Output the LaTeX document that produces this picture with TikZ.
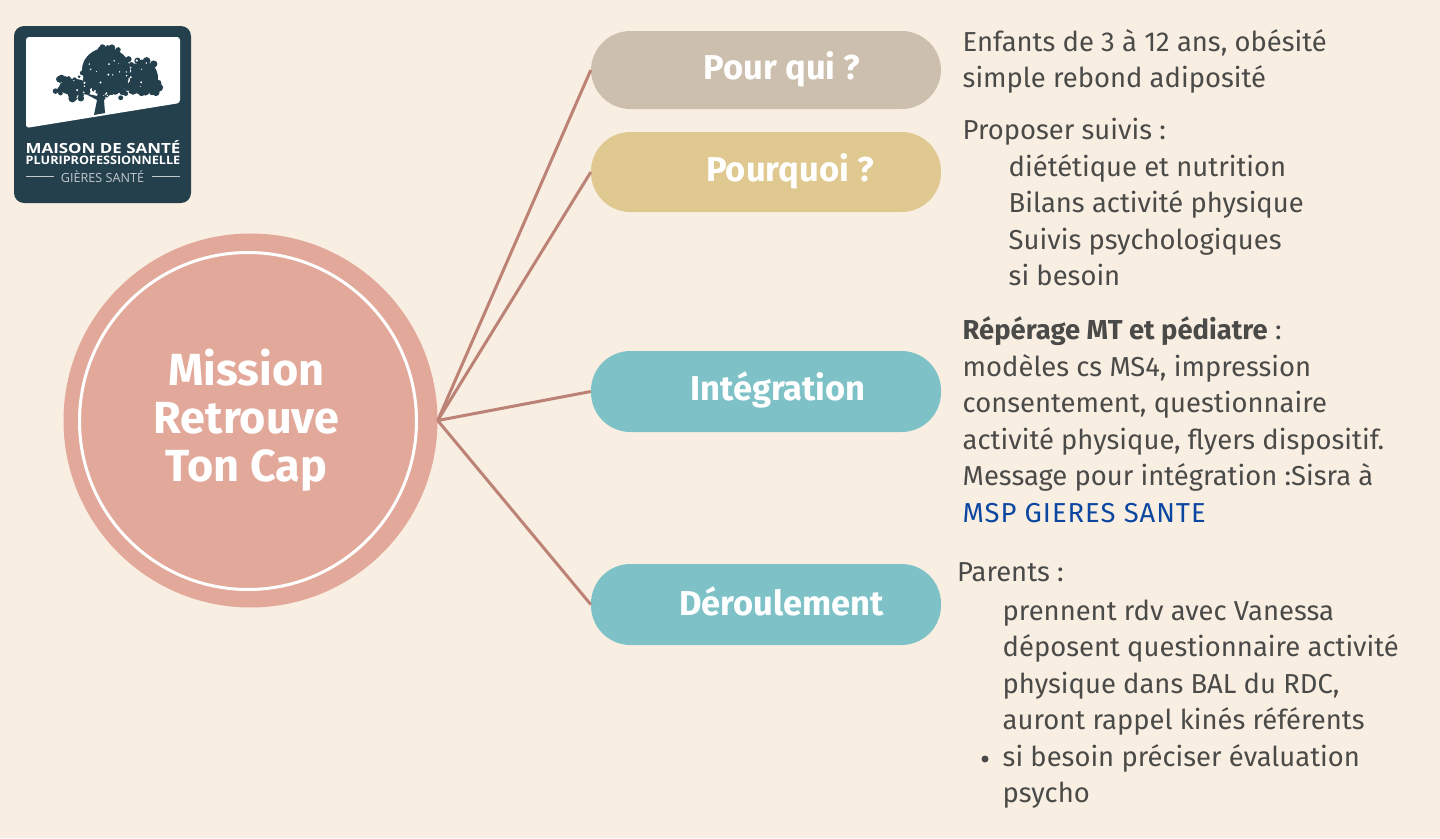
\documentclass[tikz,border=0pt]{standalone}
\usepackage{fontspec}
\setmainfont{Fira Sans}
\newfontfamily\logofont{Open Sans}
\definecolor{bgc}{HTML}{F9EEE2}
\definecolor{hubc}{HTML}{E2A99B}
\definecolor{linec}{HTML}{BD8276}
\definecolor{pillA}{HTML}{CDBFAD}
\definecolor{pillB}{HTML}{DFC990}
\definecolor{pillC}{HTML}{7EC2C8}
\definecolor{inkc}{HTML}{4A4A48}
\definecolor{linkc}{HTML}{0B46A0}
\definecolor{logoc}{HTML}{24404D}
\newcommand{\bodyblock}[1]{\begin{minipage}[t]{470pt}\raggedright #1\end{minipage}}
\newcommand{\ind}{\hspace*{46pt}}
\tikzset{
 pill/.style={rounded corners=39.5pt,minimum width=350pt,minimum height=79pt,anchor=center,inner sep=0pt},
 pilltext/.style={text=white,font=\fontsize{34.5}{36}\selectfont\bfseries,anchor=center,inner sep=0pt},
 conn/.style={draw=linec,line width=3pt},
 body/.style={text=inkc,font=\fontsize{27.4}{36.5}\selectfont,anchor=base west,inner sep=0pt},
 logotext/.style={text=white,inner sep=0pt,anchor=center},
 hubstyle/.style={text=white,font=\fontsize{45}{48}\selectfont\bfseries,align=center,inner sep=0pt},
}
\begin{document}
\begin{tikzpicture}[x=1pt,y=-1pt]
\useasboundingbox (0,0) rectangle (1440,838);
\fill[bgc] (0,0) rectangle (1440,838);
% logo
\node[fill=logoc,rounded corners=10pt,minimum width=177pt,minimum height=177pt,inner sep=0pt] (logo) at (102.5,114.5) {};
\fill[white,rounded corners=3pt] (26,128) -- (26,37) -- (180,37) -- (180,103) -- cycle;
\fill[logoc] (94,115) -- (97,100) -- (84,93) -- (97,96) -- (100,88) -- (103,96) -- (116,90) -- (104,100) -- (105,113) -- cycle;
\fill[logoc] (106,70) ellipse[x radius=24,y radius=22];
\fill[logoc] (144,78) ellipse[x radius=14,y radius=16];
\fill[logoc] (74,87) ellipse[x radius=15,y radius=8];
\pgfmathsetseed{7}
\foreach \cx/\cy/\rx/\ry/\n in {72/88/20/12/40,106/69/27/25/70,144/78/18/21/50,120/90/18/8/20}{
  \foreach \i in {1,...,\n}{
    \pgfmathsetmacro{\aa}{rnd*360}
    \pgfmathsetmacro{\dd}{sqrt(rnd)}
    \pgfmathsetmacro{\rr}{1.4+rnd*2.6}
    \fill[logoc] ({\cx+\rx*\dd*cos(\aa)},{\cy+\ry*\dd*sin(\aa)}) circle[radius=\rr];
  }
}
\foreach \i in {1,...,40}{
  \pgfmathsetmacro{\px}{62+rnd*90}
  \pgfmathsetmacro{\py}{56+rnd*42}
  \pgfmathsetmacro{\rr}{0.4+rnd*0.8}
  \fill[white] (\px,\py) circle[radius=\rr];
}
\node[logotext,xscale=1.21,font=\logofont\fontsize{14}{15}\selectfont\bfseries] (logoA) at (103,146.7) {MAISON DE SANTÉ};
\node[logotext,xscale=1.08,font=\logofont\fontsize{11.7}{12}\selectfont\bfseries] (logoB) at (103,160) {PLURIPROFESSIONNELLE};
\node[logotext,text=white!72!logoc,font=\logofont\fontsize{12.6}{13}\selectfont] (logoC) at (102.5,176.5) {GIÈRES SANTÉ};
\draw[white!72!logoc,line width=1pt] (26,176.5) -- (54,176.5) (152,176.5) -- (180,176.5);
% hub
\node[circle,fill=hubc,minimum size=374pt,inner sep=0pt] (hub) at (250.5,420.5) {};
\node[circle,draw=white,line width=3pt,minimum size=337pt,inner sep=0pt] (ring) at (248,421) {};
\node[hubstyle] (hubtext) at (246.5,420) {Mission\\Retrouve\\Ton Cap};
% pills
\node[pill,fill=pillA,minimum height=78pt] (p1) at (766,70) {};
\node[pill,fill=pillB,minimum height=80pt] (p2) at (766,172) {};
\node[pill,fill=pillC,minimum height=81pt] (p3) at (766,391.5) {};
\node[pill,fill=pillC,minimum height=81pt] (p4) at (766,604.5) {};
\node[pilltext] (t1) at (782,69) {Pour qui ?};
\node[pilltext] (t2) at (790,171) {Pourquoi ?};
\node[pilltext] (t3) at (778,390) {Intégration};
\node[pilltext] (t4) at (781.5,601.5) {Déroulement};
% connectors
\draw[conn] (hub.east) -- (p1.west);
\draw[conn] (hub.east) -- (p2.west);
\draw[conn] (hub.east) -- (p3.west);
\draw[conn] (hub.east) -- (p4.west);
% text
\node[body] (b1) at (962.5,51) {\bodyblock{Enfants de 3 à 12 ans, obésité\\simple rebond adiposité}};
\node[body] (b2) at (962.5,139.5) {\bodyblock{Proposer suivis :\\\ind diététique et nutrition\\\ind Bilans activité physique\\\ind Suivis psychologiques\\\ind si besoin}};
\node[body] (b3) at (962.5,339.5) {\bodyblock{\textbf{Répérage MT et pédiatre} :\\modèles cs MS4, impression\\consentement, questionnaire\\activité physique, flyers dispositif.\\Message pour intégration :Sisra à\\{\addfontfeatures{LetterSpace=3.6}\textcolor{linkc}{MSP GIERES SANTE}}}};
\node[body] (b4) at (957,581) {Parents :};
\node[body] (b5) at (1002.5,620) {\bodyblock{prennent rdv avec Vanessa\\déposent questionnaire activité\\physique dans BAL du RDC,\\auront rappel kinés référents\\si besoin préciser évaluation\\psycho}};
\node[circle,fill=inkc,minimum size=7pt,inner sep=0pt] (bullet) at (985,759) {};
\end{tikzpicture}
\end{document}
